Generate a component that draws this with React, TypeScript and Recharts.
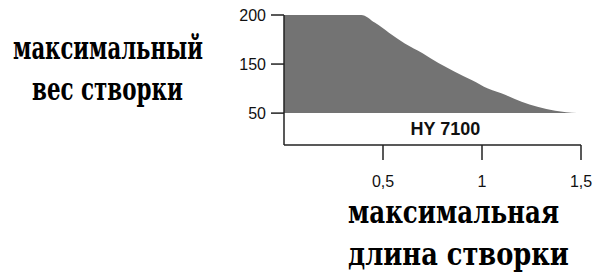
import { Area, AreaChart, Label, ReferenceArea, XAxis, YAxis } from "recharts"

const lengths = [0, 0.39, 0.46, 0.53, 0.61, 0.7, 0.78, 0.86, 0.95, 1.03, 1.12, 1.2, 1.28, 1.37, 1.48]
const weights = [200, 200, 192, 182, 171, 161, 151, 135, 117, 100, 87, 73, 63, 55, 50]

const xTicks = [0.5, 1, 1.5]
const yTicks = [50, 150, 200]

// the printed weight axis is not linear: 200 / 150 / 50 sit at equal steps
const axisWeights = [0, 50, 150, 200]
const axisSteps = [0, 0.65, 1.65, 2.65]

function toStep(w: number) {
  for (let i = 1; i < axisWeights.length; i++) {
    if (w <= axisWeights[i]) {
      const t = (w - axisWeights[i - 1]) / (axisWeights[i] - axisWeights[i - 1])
      return axisSteps[i - 1] + t * (axisSteps[i] - axisSteps[i - 1])
    }
  }
  return axisSteps[axisSteps.length - 1]
}

const tickFont = "'Liberation Sans', Arial, sans-serif"
const titleFont = "'DejaVu Serif', serif"
const titleSize = 32

let ctx: CanvasRenderingContext2D | null = null
function textWidth(text: string) {
  if (!ctx) ctx = document.createElement("canvas").getContext("2d")
  if (!ctx) return text.length * titleSize * 0.7
  ctx.font = `bold ${titleSize}px ${titleFont}`
  return ctx.measureText(text).width
}

// squeeze a heavy serif title to the width it has in the scan
function Title({ x, y, width, text }: { x: number; y: number; width: number; text: string }) {
  const sx = width / textWidth(text)
  return (
    <text transform={`translate(${x} ${y}) scale(${sx} 1)`} fontFamily={titleFont} fontWeight="bold" fontSize={titleSize} fill="#000">
      {text}
    </text>
  )
}

export default function App() {
  const data = lengths.map((len, i) => ({ len, step: toStep(weights[i]) }))
  const yTickSteps = yTicks.map(toStep)

  return (
    <div style={{ position: "absolute", left: 0, top: 0, width: 607, height: 280, background: "#fff" }}>
      <AreaChart width={607} height={280} data={data} margin={{ top: 15, right: 26, left: 244, bottom: 105 }}>
        <XAxis
          dataKey="len"
          type="number"
          domain={[0, 1.5]}
          ticks={xTicks}
          tickFormatter={(v) => String(v).replace(".", ",")}
          height={30}
          stroke="#222"
          strokeWidth={1.5}
          tickSize={15}
          tickMargin={16}
          tick={{ fontSize: 16, fill: "#111", fontFamily: tickFont }}
        />
        <YAxis
          type="number"
          domain={[0, axisSteps[axisSteps.length - 1]]}
          ticks={yTickSteps}
          tickFormatter={(v) => {
            const i = yTickSteps.findIndex((s) => Math.abs(s - v) < 0.01)
            return i >= 0 ? String(yTicks[i]) : ""
          }}
          width={40}
          stroke="#222"
          strokeWidth={1.5}
          tickSize={13}
          tickMargin={5}
          tick={{ fontSize: 16, fill: "#111", fontFamily: tickFont }}
        />
        <Area
          type="monotone"
          dataKey="step"
          baseValue={toStep(50)}
          stroke="none"
          fill="#737373"
          fillOpacity={1}
          isAnimationActive={false}
        />
        <ReferenceArea x1={0.13} x2={1.5} y1={0} y2={toStep(50)} fillOpacity={0} strokeOpacity={0}>
          <Label
            value="HY 7100"
            position="center"
            fontSize={18}
            fontWeight="bold"
            fill="#111"
            fontFamily={tickFont}
          />
        </ReferenceArea>
      </AreaChart>
      <svg width={607} height={280} style={{ position: "absolute", left: 0, top: 0, pointerEvents: "none" }}>
        <Title x={13} y={59} width={190} text="максимальный" />
        <Title x={32} y={100} width={151} text="вес створки" />
        <Title x={348} y={223} width={211} text="максимальная" />
        <Title x={348} y={265} width={221} text="длина створки" />
      </svg>
    </div>
  )
}
